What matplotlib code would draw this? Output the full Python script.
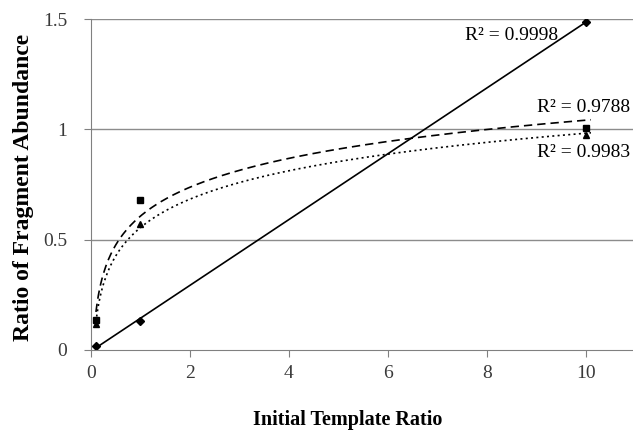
import numpy as np
import matplotlib.pyplot as plt

plt.rcParams['font.family'] = ['Liberation Serif', 'DejaVu Serif']

# initial template ratio
x = [0.1, 1, 10]
# measured fragment abundance ratios
diamond_y = [0.02, 0.133, 1.487]
square_y = [0.136, 0.68, 1.005]
triangle_y = [0.12, 0.57, 0.975]
r2_labels = ['R² = 0.9998', 'R² = 0.9788', 'R² = 0.9983']

xa = np.array(x)
xs = np.linspace(0.1, 10.1, 400)

fig = plt.figure(figsize=(6.33, 4.34), dpi=100)
ax = fig.add_axes([91 / 633, 1 - 350 / 434, 1 - 91 / 633, 331 / 434])

# trendlines: linear for diamonds, logarithmic for the other two
m, b = np.polyfit(xa, diamond_y, 1)
ax.plot(xs[xs <= 10], m * xs[xs <= 10] + b, color='black', lw=1.2)
a1, c1 = np.polyfit(np.log(xa), square_y, 1)
ax.plot(xs, a1 * np.log(xs) + c1, color='black', lw=1.2, ls=(0, (5, 3)))
a2, c2 = np.polyfit(np.log(xa), triangle_y, 1)
ax.plot(xs, a2 * np.log(xs) + c2, color='black', lw=1.2, ls=(0, (1.2, 2)))

ax.plot(x, diamond_y, 'D', color='black', ms=4)
ax.plot(x, square_y, 's', color='black', ms=5)
ax.plot(x, triangle_y, '^', color='black', ms=5)

ax.text(9.43, 1.427, r2_labels[0], fontsize=14, ha='right', va='center')
ax.text(9.02, 1.10, r2_labels[1], fontsize=14, ha='left', va='center', clip_on=False)
ax.text(9.02, 0.897, r2_labels[2], fontsize=14, ha='left', va='center', clip_on=False)

ax.set_xlim(0, 10.95)
ax.set_ylim(0, 1.5)
ax.set_xticks([0, 2, 4, 6, 8, 10])
ax.set_yticks([0, 0.5, 1, 1.5])
ax.set_yticklabels(['0', '0.5', '1', '1.5'])
for yv in [0.5, 1, 1.5]:
    ax.axhline(yv, color='#8c8c8c', lw=1, zorder=0)

for s in ['top', 'right']:
    ax.spines[s].set_visible(False)
ax.spines['left'].set_color('#808080')
ax.spines['bottom'].set_color('#808080')
ax.tick_params(direction='out', length=5, color='#808080', labelsize=14,
               labelcolor='#3a3a3a')
ax.tick_params(axis='y', pad=12)
ax.tick_params(axis='x', pad=6)
ax.set_xlabel('Initial Template Ratio', fontsize=14.5, fontweight='bold', va='center')
ax.set_ylabel('Ratio of Fragment Abundance', fontsize=17, fontweight='bold', va='center')
ax.xaxis.set_label_coords(0.474, -0.21)
ax.yaxis.set_label_coords(-0.125, 0.49)

fig.savefig('out.png', dpi=100)
